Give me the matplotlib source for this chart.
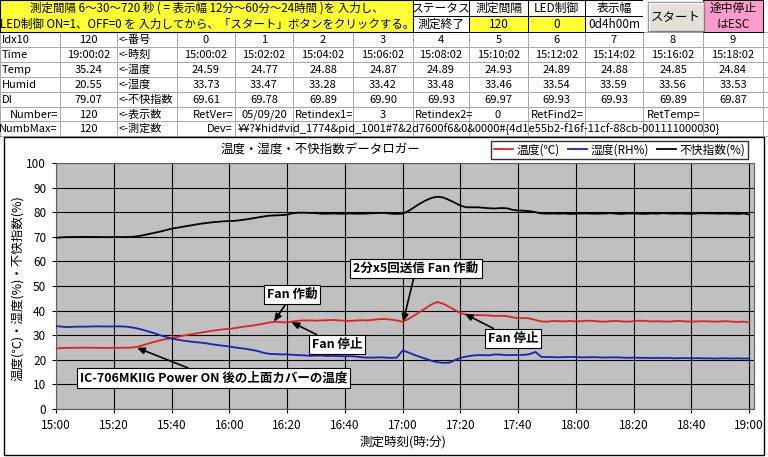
import numpy as np
import matplotlib
matplotlib.use('Agg')
import matplotlib.pyplot as plt
from matplotlib.patches import Rectangle

plt.rcParams['font.family'] = ['Noto Sans CJK JP', 'DejaVu Sans']

# ---------------- data ----------------
temp = [
    24.59, 24.77, 24.88, 24.87, 24.89, 24.93, 24.89, 24.88, 24.85, 24.84,
    24.86, 24.88, 24.90, 24.95, 25.30, 25.90, 26.60, 27.30, 27.90, 28.40,
    28.80, 29.30, 29.80, 30.20, 30.60, 31.00, 31.40, 31.80, 32.10, 32.40,
    32.60, 32.90, 33.30, 33.60, 33.90, 34.30, 34.70, 35.20, 35.50, 35.30,
    35.20, 35.60, 35.90, 36.00, 36.00, 35.90, 36.00, 36.10, 36.20, 36.00,
    35.90, 35.80, 36.00, 36.10, 36.00, 36.30, 36.50, 36.60, 36.30, 36.00,
    35.40, 36.60, 38.00, 39.50, 41.00, 42.50, 43.50, 42.80, 41.60, 40.30,
    39.00, 38.40, 38.00, 38.20, 38.10, 38.00, 37.80, 37.90, 37.80, 37.30,
    36.90, 37.00, 36.80, 36.20, 35.60, 35.50, 35.80, 35.70, 35.60, 35.80,
    35.60, 35.70, 35.90, 35.80, 35.60, 35.50, 35.70, 35.80, 35.60, 35.50,
    35.70, 35.90, 35.80, 35.60, 35.70, 35.60, 35.50, 35.70, 35.80, 35.60,
    35.50, 35.60, 35.70, 35.60, 35.50, 35.60, 35.70, 35.50, 35.40, 35.50,
    35.24]
humid = [
    33.73, 33.47, 33.28, 33.42, 33.48, 33.46, 33.54, 33.59, 33.56, 33.53,
    33.60, 33.60, 33.50, 33.20, 32.80, 32.20, 31.50, 30.80, 30.00, 29.30,
    28.60, 28.20, 27.80, 27.50, 27.20, 27.00, 26.70, 26.30, 26.00, 25.70,
    25.40, 25.00, 24.70, 24.40, 24.00, 23.50, 22.80, 22.40, 22.30, 22.20,
    22.20, 22.00, 21.90, 21.80, 21.60, 21.70, 21.70, 21.50, 21.60, 21.50,
    21.40, 21.50, 21.30, 21.00, 20.90, 20.90, 21.00, 20.90, 20.80, 20.90,
    23.80, 23.00, 22.00, 21.20, 20.40, 19.60, 19.00, 18.80, 18.80, 19.80,
    20.80, 21.30, 21.70, 21.90, 21.90, 21.80, 22.20, 22.10, 21.90, 21.90,
    22.00, 22.00, 22.30, 23.20, 21.20, 21.10, 21.10, 21.00, 21.10, 21.20,
    21.10, 21.00, 21.00, 21.10, 21.00, 20.90, 21.00, 21.00, 20.90, 20.80,
    20.90, 20.80, 20.80, 20.70, 20.80, 20.70, 20.80, 20.60, 20.70, 20.70,
    20.60, 20.70, 20.60, 20.60, 20.50, 20.60, 20.60, 20.50, 20.60, 20.50,
    20.55]
di = [
    69.61, 69.78, 69.89, 69.90, 69.93, 69.97, 69.93, 69.93, 69.89, 69.87,
    69.90, 69.90, 69.90, 69.95, 70.20, 70.60, 71.10, 71.60, 72.10, 72.70,
    73.30, 73.70, 74.10, 74.50, 74.90, 75.30, 75.60, 75.90, 76.10, 76.30,
    76.40, 76.50, 76.80, 77.10, 77.50, 77.90, 78.30, 78.60, 78.70, 78.80,
    79.00, 79.60, 79.80, 79.80, 79.70, 79.60, 79.40, 79.40, 79.50, 79.40,
    79.40, 79.50, 79.40, 79.40, 79.50, 79.60, 79.70, 79.70, 79.40, 79.30,
    79.40, 80.50, 82.00, 83.50, 84.80, 85.80, 86.30, 86.00, 85.00, 83.90,
    82.70, 82.00, 82.00, 82.00, 81.80, 81.60, 81.50, 81.70, 81.60, 81.00,
    80.70, 80.60, 80.40, 80.00, 79.50, 79.40, 79.50, 79.40, 79.50, 79.30,
    79.40, 79.50, 79.50, 79.40, 79.40, 79.50, 79.60, 79.40, 79.30, 79.50,
    79.50, 79.40, 79.30, 79.50, 79.40, 79.60, 79.50, 79.40, 79.50, 79.40,
    79.30, 79.50, 79.60, 79.50, 79.50, 79.40, 79.50, 79.40, 79.30, 79.50,
    79.07]
minutes = np.arange(len(temp)) * 2 + 2 / 60.0   # minutes after 15:00 (sampled every 2 min at :02 s)
xtick_min = list(range(0, 241, 20))
xtick_labels = ["15:00", "15:20", "15:40", "16:00", "16:20", "16:40", "17:00",
                "17:20", "17:40", "18:00", "18:20", "18:40", "19:00"]
legend_labels = ["温度(℃)", "湿度(RH%)", "不快指数(%)"]
series_colors = ["#E02222", "#1A22B8", "#000000"]

# ---------------- figure ----------------
W, H = 768, 457
fig = plt.figure(figsize=(W / 100, H / 100), dpi=100)
bg = fig.add_axes([0, 0, 1, 1])
bg.set_xlim(0, W)
bg.set_ylim(H, 0)
bg.axis('off')
bg.set_zorder(0)

FS = 8
col_edges = [0, 60, 117, 177, 235, 293, 353, 413, 469, 528, 585, 643, 703, 763, 768]
row_edges = [32, 47, 62, 77, 92, 107, 121, 136]
gridc = '#A8A8A8'
for y in row_edges:
    bg.plot([0, W], [y, y], color=gridc, lw=0.7, zorder=1)
for x in col_edges:
    bg.plot([x, x], [32, 137], color=gridc, lw=0.7, zorder=1)

# header block
bg.add_patch(Rectangle((0, 0), 413, 32, facecolor='#FFFF33', edgecolor='black', lw=0.8, zorder=2))
bg.text(207, 8.5, "測定間隔 6～30～720 秒 ( = 表示幅 12分～60分～24時間 )を 入力し、",
        ha='center', va='center', fontsize=8.3, zorder=3)
bg.text(207, 24, "LED制御 ON=1、OFF=0 を 入力してから、「スタート」ボタンをクリックする。",
        ha='center', va='center', fontsize=8.3, zorder=3)
head_cells = [(413, 469, "ステータス", "測定終了", 'white'),
              (469, 528, "測定間隔", "120", '#FFFF33'),
              (528, 585, "LED制御", "0", '#FFFF33'),
              (585, 643, "表示幅", "0d4h00m", 'white')]
for x0, x1, top, bot, c in head_cells:
    bg.add_patch(Rectangle((x0, 0), x1 - x0, 16, facecolor='white', edgecolor='black', lw=0.7, zorder=2))
    bg.add_patch(Rectangle((x0, 16), x1 - x0, 16, facecolor=c, edgecolor='black', lw=0.7, zorder=2))
    bg.text((x0 + x1) / 2, 8.5, top, ha='center', va='center', fontsize=FS + 0.5, zorder=3)
    bg.text((x0 + x1) / 2, 24.5, bot, ha='center', va='center', fontsize=FS + 0.5, zorder=3)
# button
bg.add_patch(Rectangle((643, 0), 60, 32, facecolor='white', edgecolor='none', zorder=2))
bg.add_patch(Rectangle((648, 2), 56, 29, facecolor='#E4E0D8', edgecolor='#808080', lw=1.0, zorder=3))
bg.plot([649, 703], [3, 3], color='white', lw=1, zorder=4)
bg.plot([649, 649], [3, 30], color='white', lw=1, zorder=4)
bg.text(676, 17, "スタート", ha='center', va='center', fontsize=FS + 1, zorder=5)
bg.add_patch(Rectangle((703, 0), 60, 32, facecolor='#FF9ACD', edgecolor='black', lw=0.7, zorder=2))
bg.text(733, 8.5, "途中停止", ha='center', va='center', fontsize=FS + 0.5, zorder=3)
bg.text(733, 24.5, "はESC", ha='center', va='center', fontsize=FS + 0.5, zorder=3)

# table rows
row_names = ["Idx10", "Time", "Temp", "Humid", "DI"]
row_notes = ["<-番号", "<-時刻", "<-温度", "<-湿度", "<-不快指数"]
n_show = 10
def tstr(m):
    mm = int(m)
    return "%d:%02d:02" % (15 + mm // 60, mm % 60)
row_last = [str(len(temp) - 1), tstr(minutes[-1]), "%.2f" % temp[-1], "%.2f" % humid[-1], "%.2f" % di[-1]]
row_vals = [[str(i) for i in range(n_show)],
            [tstr(m) for m in minutes[:n_show]],
            ["%.2f" % v for v in temp[:n_show]],
            ["%.2f" % v for v in humid[:n_show]],
            ["%.2f" % v for v in di[:n_show]]]
for r in range(5):
    yc = (row_edges[r] + row_edges[r + 1]) / 2 + 0.5
    bg.text(2, yc, row_names[r], ha='left', va='center', fontsize=FS, zorder=3)
    bg.text(88.5, yc, row_last[r], ha='center', va='center', fontsize=FS, zorder=3)
    bg.text(119, yc, row_notes[r], ha='left', va='center', fontsize=FS, zorder=3, clip_on=True)
    for k in range(n_show):
        xc = (col_edges[3 + k] + col_edges[4 + k]) / 2
        bg.text(xc, yc, row_vals[r][k], ha='center', va='center', fontsize=FS, zorder=3)

y6 = (row_edges[5] + row_edges[6]) / 2 + 0.5
y7 = (row_edges[6] + row_edges[7]) / 2 + 0.5
bg.text(58, y6, "Number=", ha='right', va='center', fontsize=FS)
bg.text(88.5, y6, "120", ha='center', va='center', fontsize=FS)
bg.text(119, y6, "<-表示数", ha='left', va='center', fontsize=FS)
bg.text(233, y6, "RetVer=", ha='right', va='center', fontsize=FS)
bg.text(264, y6, "05/09/20", ha='center', va='center', fontsize=FS)
bg.text(295, y6, "Retindex1=", ha='left', va='center', fontsize=FS)
bg.text(383, y6, "3", ha='center', va='center', fontsize=FS)
bg.text(415, y6, "Retindex2=", ha='left', va='center', fontsize=FS)
bg.text(498, y6, "0", ha='center', va='center', fontsize=FS)
bg.text(531, y6, "RetFind2=", ha='left', va='center', fontsize=FS)
bg.text(647, y6, "RetTemp=", ha='left', va='center', fontsize=FS)
bg.text(58, y7, "NumbMax=", ha='right', va='center', fontsize=FS)
bg.text(88.5, y7, "120", ha='center', va='center', fontsize=FS)
bg.text(119, y7, "<-測定数", ha='left', va='center', fontsize=FS)
bg.text(233, y7, "Dev=", ha='right', va='center', fontsize=FS)
bg.text(238, y7, "¥¥?¥hid#vid_1774&pid_1001#7&2d7600f6&0&0000#{4d1e55b2-f16f-11cf-88cb-001111000030}",
        ha='left', va='center', fontsize=FS)

# chart area
bg.add_patch(Rectangle((4, 137), 760, 318, facecolor='white', edgecolor='black', lw=1.0, zorder=5))
bg.text(320, 150, "温度・湿度・不快指数データロガー", ha='center', va='center', fontsize=9, zorder=6)
bg.text(403, 442, "測定時刻(時:分)", ha='center', va='center', fontsize=9, zorder=6)
bg.text(18, 288, "温度(℃)・湿度(%)・不快指数(%)", ha='center', va='center', rotation=90, fontsize=9, zorder=6)

ax = fig.add_axes([56 / W, 1 - 409 / H, 698 / W, 246 / H])
ax.set_zorder(10)
ax.set_facecolor('#C0C0C0')
lines = []
for vals, c, lab in zip([temp, humid, di], series_colors, legend_labels):
    ln, = ax.plot(minutes, vals, color=c, lw=1.3, label=lab, zorder=3)
    lines.append(ln)
ax.set_xlim(0, 241.7)
ax.set_ylim(0, 100)
ax.set_yticks(range(0, 101, 10))
ax.set_xticks(xtick_min)
ax.set_xticklabels(xtick_labels)
ax.grid(True, color='black', lw=0.8, zorder=1)
ax.set_axisbelow(True)
for s in ax.spines.values():
    s.set_color('#606060')
    s.set_linewidth(0.8)
ax.tick_params(labelsize=8.5, length=3, color='black', pad=4)

fig.legend(handles=lines, loc='center', bbox_to_anchor=(619.5 / W, 1 - 150 / H), ncol=3,
           frameon=True, fancybox=False, edgecolor='black', fontsize=8.5, handlelength=1.6,
           columnspacing=0.7, handletextpad=0.3, borderpad=0.25, borderaxespad=0)

# annotations
box = dict(boxstyle='square,pad=0.25', facecolor='white', edgecolor='black', lw=0.8)
arw = dict(arrowstyle='-|>,head_length=0.5,head_width=0.22', color='black', lw=1.2, shrinkA=0, shrinkB=0)
notes = [("Fan 作動", (75.5, temp[37] + 0.3), (292, 294.5)),
         ("Fan 停止", (81.5, temp[40] + 0.1), (337, 344.5)),
         ("2分x5回送信 Fan 作動", (120.2, temp[60]), (416, 268.5)),
         ("Fan 停止", (141.5, temp[70] - 0.3), (513, 338.5)),
         ("IC-706MKIIG Power ON 後の上面カバーの温度", (28.0, temp[14] - 0.4), (213.5, 378))]
for txt, xy, (px, py) in notes:
    ax.annotate(txt, xy=xy, xycoords='data', xytext=(px, H - py), textcoords='figure pixels',
                ha='center', va='center', fontsize=9, fontweight='bold', bbox=box,
                arrowprops=arw, zorder=6, annotation_clip=False)

fig.savefig('out.png', dpi=100)
